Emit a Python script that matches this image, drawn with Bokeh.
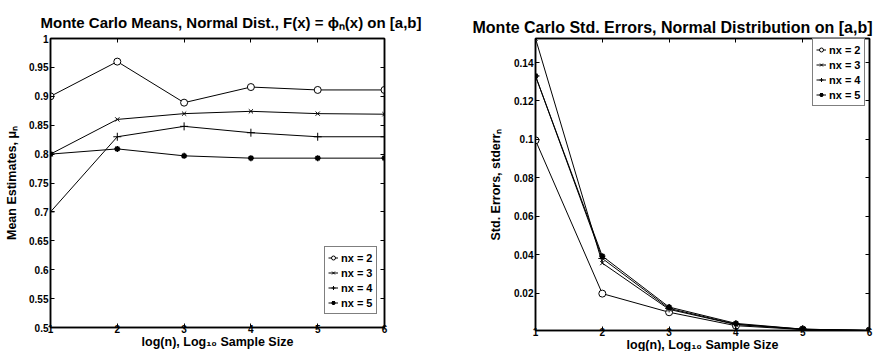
from bokeh.plotting import figure
from bokeh.layouts import row
from bokeh.models import Range1d, FixedTicker, LinearAxis, Legend, LegendItem
from bokeh.embed import file_html
from bokeh.resources import INLINE

# ---------------- data ----------------
x_vals = [1, 2, 3, 4, 5, 6]
series_names = ["nx = 2", "nx = 3", "nx = 4", "nx = 5"]

mean_nx2 = [0.900, 0.960, 0.889, 0.916, 0.911, 0.911]
mean_nx3 = [0.800, 0.860, 0.870, 0.874, 0.870, 0.869]
mean_nx4 = [0.700, 0.830, 0.848, 0.837, 0.830, 0.830]
mean_nx5 = [0.800, 0.809, 0.797, 0.793, 0.793, 0.793]

se_nx2 = [0.0995, 0.0197, 0.0100, 0.0030, 0.0010, 0.0005]
se_nx3 = [0.1525, 0.0356, 0.0115, 0.0036, 0.0011, 0.0005]
se_nx4 = [0.1330, 0.0380, 0.0120, 0.0038, 0.0012, 0.0005]
se_nx5 = [0.1330, 0.0392, 0.0127, 0.0042, 0.0012, 0.0005]

x_ticks = [1, 2, 3, 4, 5, 6]
x_tick_labels = ["1", "2", "3", "4", "5", "6"]
mean_ticks = [0.5, 0.55, 0.6, 0.65, 0.7, 0.75, 0.8, 0.85, 0.9, 0.95, 1.0]
mean_tick_labels = ["0.5", "0.55", "0.6", "0.65", "0.7", "0.75", "0.8", "0.85", "0.9", "0.95", "1"]
se_ticks = [0.02, 0.04, 0.06, 0.08, 0.10, 0.12, 0.14]
se_tick_labels = ["0.02", "0.04", "0.06", "0.08", "0.1", "0.12", "0.14"]

title_left = "Monte Carlo Means, Normal Dist., F(x) = \u03d5\u2099(x) on [a,b]"
title_right = "Monte Carlo Std. Errors, Normal Distribution on [a,b]"
xlabel = "log(n), Log\u2081\u2080 Sample Size"
ylabel_left = "Mean Estimates, \u03bc\u2099"
ylabel_right = "Std. Errors, stderr\u2099"

FONT = "Liberation Sans"


def style_axis(ax, ticks, labels, show_labels=True):
    ax.ticker = FixedTicker(ticks=ticks)
    ax.major_tick_in = 4
    ax.major_tick_out = 0
    ax.minor_tick_line_color = None
    ax.axis_line_color = "black"
    ax.axis_line_width = 1.5
    ax.major_tick_line_color = "black"
    ax.major_tick_line_width = 1
    if show_labels:
        ax.major_label_overrides = {t: l for t, l in zip(ticks, labels)}
        ax.major_label_text_font = FONT
        ax.major_label_text_font_style = "bold"
        ax.major_label_text_color = "black"
        ax.major_label_text_font_size = "10px"
        ax.major_label_standoff = 1
    else:
        ax.major_label_text_font_size = "0px"
        ax.major_label_text_color = None
        ax.major_label_standoff = 0
        ax.axis_label_standoff = 0


def make_panel(series, yticks, ylabels, y_start, y_end, border_left, border_right,
               border_top, frame_h, ylab, title, title_size, title_dx, title_standoff,
               legend_loc, ylab_standoff):
    p = figure(frame_width=334, frame_height=frame_h,
               min_border_left=border_left, min_border_right=border_right,
               min_border_top=border_top, min_border_bottom=24,
               x_range=Range1d(x_ticks[0], x_ticks[-1]),
               y_range=Range1d(y_start, y_end),
               output_backend="svg", toolbar_location=None,
               background_fill_color="white", border_fill_color="white")
    p.xgrid.visible = False
    p.ygrid.visible = False
    p.outline_line_color = "black"
    p.outline_line_width = 1.5

    # title
    p.title.text = title
    p.title.align = "left"
    p.title.offset = title_dx
    p.title.standoff = title_standoff
    p.title.text_font = FONT
    p.title.text_font_style = "bold"
    p.title.text_font_size = title_size
    p.title.text_color = "black"

    xa = p.xaxis[0]
    style_axis(xa, x_ticks, x_tick_labels)
    xa.major_label_standoff = -3
    xa.axis_label = xlabel
    xa.axis_label_text_font = FONT
    xa.axis_label_text_font_style = "bold"
    xa.axis_label_text_font_size = "12.5px"
    xa.axis_label_text_color = "black"
    xa.axis_label_standoff = -1

    ya = p.yaxis[0]
    style_axis(ya, yticks, ylabels)
    ya.axis_label = ylab
    ya.axis_label_text_font = FONT
    ya.axis_label_text_font_style = "bold"
    ya.axis_label_text_font_size = "12.5px"
    ya.axis_label_text_color = "black"
    ya.axis_label_standoff = ylab_standoff
    ya.major_label_standoff = 2

    top_ax = LinearAxis()
    style_axis(top_ax, x_ticks, x_tick_labels, show_labels=False)
    p.add_layout(top_ax, "above")
    right_ax = LinearAxis()
    style_axis(right_ax, yticks, ylabels, show_labels=False)
    p.add_layout(right_ax, "right")

    items = []
    marker_specs = [
        dict(marker="circle", size=7, fill_color="white", line_width=1),
        dict(marker="x", size=6, line_width=1),
        dict(marker="cross", size=8, line_width=1),
        dict(marker="asterisk", size=6, line_width=1.6),
    ]
    for name, ys, spec in zip(series_names, series, marker_specs):
        ln = p.line(x_vals, ys, line_color="black", line_width=1)
        sc = p.scatter(x_vals, ys, line_color="black", **spec)
        items.append(LegendItem(label=name, renderers=[ln, sc]))

    legend = Legend(items=items, location=legend_loc,
                    label_text_font=FONT, label_text_font_style="bold",
                    label_text_font_size="11px", label_text_color="black",
                    glyph_width=10, glyph_height=15, label_height=15,
                    label_standoff=3, spacing=0, padding=3, margin=0,
                    border_line_color="black", border_line_width=1,
                    background_fill_color="white", background_fill_alpha=1)
    p.add_layout(legend, "center")
    return p


p1 = make_panel([mean_nx2, mean_nx3, mean_nx4, mean_nx5], mean_ticks, mean_tick_labels,
                mean_ticks[0], mean_ticks[-1], 50, 56, 38, 289, ylabel_left,
                title_left, "15px", -10, 16, (274, 13), 7)

se_all = se_nx2 + se_nx3 + se_nx4 + se_nx5
p2 = make_panel([se_nx2, se_nx3, se_nx4, se_nx5], se_ticks, se_tick_labels,
                min(se_all), max(se_all), 95, 8, 35, 292, ylabel_right,
                title_right, "16px", -63, 5, (277, 224), 8)

layout = row(p1, p2)
open("out.html", "w").write(file_html(layout, INLINE))
